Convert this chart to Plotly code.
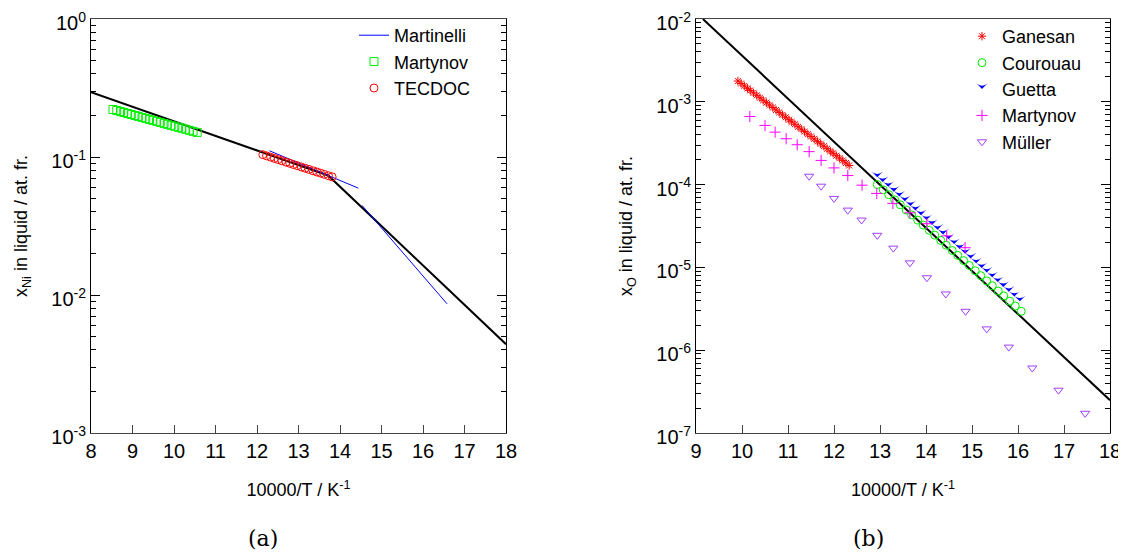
import plotly.graph_objects as go

# ---------------- data: panel (a) ----------------
calc_a_x = [8.0, 13.715, 18.0]
calc_a_y = [0.295, 0.0735, 0.0044]

martinelli_x = [12.3, 14.44, None, 14.53, 16.58]
martinelli_y = [0.111, 0.0595, None, 0.0446, 0.00863]

martynov_a_x = [8.53, 8.62, 8.71, 8.79, 8.88, 8.97, 9.06, 9.14, 9.23, 9.32, 9.41, 9.49,
                9.58, 9.67, 9.76, 9.84, 9.93, 10.02, 10.11, 10.19, 10.28, 10.37, 10.46, 10.56]
martynov_a_y = [0.2208, 0.2171, 0.2135, 0.2102, 0.2067, 0.2032, 0.1998, 0.1968, 0.1935, 0.1903,
                0.1871, 0.1843, 0.1812, 0.1781, 0.1751, 0.1725, 0.1696, 0.1668, 0.1640, 0.1615,
                0.1588, 0.1561, 0.1535, 0.1507]

tecdoc_x = [12.14, 12.23, 12.33, 12.42, 12.51, 12.60, 12.70, 12.79, 12.88, 12.97, 13.07, 13.16,
            13.25, 13.35, 13.44, 13.53, 13.62, 13.72, 13.81]
tecdoc_y = [0.1040, 0.1019, 0.0997, 0.0977, 0.0958, 0.0939, 0.0918, 0.0900, 0.0882, 0.0865,
            0.0846, 0.0829, 0.0813, 0.0795, 0.0779, 0.0764, 0.0749, 0.0732, 0.0718]

# ---------------- data: panel (b) ----------------
calc_b_x = [9.15, 18.0]
calc_b_y = [1.0e-2, 2.49e-7]

ganesan_x = [9.91, 9.98, 10.05, 10.12, 10.18, 10.25, 10.32, 10.39, 10.46, 10.53, 10.60, 10.67,
             10.74, 10.81, 10.88, 10.95, 11.02, 11.08, 11.15, 11.22, 11.29, 11.36, 11.43, 11.50,
             11.57, 11.64, 11.71, 11.78, 11.85, 11.92, 11.98, 12.05, 12.12, 12.19, 12.26, 12.33]
ganesan_y = [1.782e-3, 1.665e-3, 1.556e-3, 1.454e-3, 1.372e-3, 1.282e-3, 1.197e-3, 1.119e-3,
             1.045e-3, 9.766e-4, 9.125e-4, 8.526e-4, 7.966e-4, 7.443e-4, 6.955e-4, 6.498e-4,
             6.072e-4, 5.728e-4, 5.352e-4, 5.000e-4, 4.672e-4, 4.366e-4, 4.079e-4, 3.811e-4,
             3.561e-4, 3.327e-4, 3.109e-4, 2.905e-4, 2.714e-4, 2.536e-4, 2.392e-4, 2.235e-4,
             2.088e-4, 1.951e-4, 1.823e-4, 1.703e-4]

courouau_x = [12.94, 13.07, 13.19, 13.32, 13.44, 13.57, 13.69, 13.82, 13.94, 14.07, 14.19, 14.32,
              14.44, 14.57, 14.69, 14.82, 14.94, 15.07, 15.19, 15.32, 15.44, 15.57, 15.69, 15.82,
              15.94, 16.07]
courouau_y = [1.002e-4, 8.657e-5, 7.562e-5, 6.533e-5, 5.707e-5, 4.930e-5, 4.307e-5, 3.721e-5,
              3.250e-5, 2.808e-5, 2.452e-5, 2.118e-5, 1.851e-5, 1.599e-5, 1.396e-5, 1.206e-5,
              1.054e-5, 9.105e-6, 7.953e-6, 6.869e-6, 6.001e-6, 5.185e-6, 4.529e-6, 3.912e-6,
              3.417e-6, 2.952e-6]

guetta_x = [12.94, 13.06, 13.18, 13.30, 13.42, 13.54, 13.66, 13.77, 13.89, 14.01, 14.13, 14.25,
            14.37, 14.49, 14.61, 14.73, 14.85, 14.97, 15.09, 15.21, 15.32, 15.44, 15.56, 15.68,
            15.80, 15.92, 16.04]
guetta_y = [1.227e-4, 1.074e-4, 9.397e-5, 8.222e-5, 7.193e-5, 6.292e-5, 5.506e-5, 4.872e-5,
            4.263e-5, 3.729e-5, 3.262e-5, 2.854e-5, 2.497e-5, 2.185e-5, 1.912e-5, 1.673e-5,
            1.463e-5, 1.280e-5, 1.120e-5, 9.806e-6, 8.678e-6, 7.591e-6, 6.641e-6, 5.810e-6,
            5.084e-6, 4.447e-6, 3.891e-6]

martynov_b_x = [10.17, 10.50, 10.72, 10.96, 11.20, 11.46, 11.72, 12.00, 12.30, 12.61, 12.93,
                13.28, 13.65, 14.02, 14.45, 14.85]
martynov_b_y = [6.64e-4, 5.18e-4, 4.30e-4, 3.58e-4, 3.03e-4, 2.50e-4, 1.96e-4, 1.59e-4, 1.29e-4,
                9.84e-5, 7.82e-5, 5.93e-5, 4.57e-5, 3.37e-5, 2.40e-5, 1.73e-5]

muller_x = [11.46, 11.72, 12.00, 12.30, 12.60, 12.94, 13.29, 13.65, 14.02, 14.43, 14.86, 15.32,
            15.80, 16.31, 16.88, 17.46]
muller_y = [1.262e-4, 9.57e-5, 6.81e-5, 4.92e-5, 3.73e-5, 2.44e-5, 1.71e-5, 1.135e-5, 7.50e-6,
            4.78e-6, 2.95e-6, 1.81e-6, 1.09e-6, 6.10e-7, 3.29e-7, 1.73e-7]

xticks_a = list(range(8, 19))
xticks_b = list(range(9, 19))
yexp_a = [0, -1, -2, -3]
yexp_b = [-2, -3, -4, -5, -6, -7]

FONT = "Liberation Sans, Arial, Helvetica, sans-serif"

# the page body keeps its default 8px margin; the figure fills the rest of the window
OFF = 8
W, H = 1126 - OFF, 554 - OFF


def fx(px):
    return (px - OFF) / W


def fy(py):
    return 1 - (py - OFF) / H


fig = go.Figure()

# panel (a)
fig.add_trace(go.Scatter(x=calc_a_x, y=calc_a_y, mode="lines", line=dict(color="black", width=2),
                         showlegend=False, xaxis="x", yaxis="y"))
fig.add_trace(go.Scatter(x=martinelli_x, y=martinelli_y, mode="lines", name="Martinelli",
                         line=dict(color="#0000ff", width=1), legend="legend", xaxis="x", yaxis="y"))
fig.add_trace(go.Scatter(x=martynov_a_x, y=martynov_a_y, mode="markers", name="Martynov",
                         marker=dict(symbol="square-open", size=8, color="#00ee00", line=dict(width=1)),
                         legend="legend", xaxis="x", yaxis="y"))
fig.add_trace(go.Scatter(x=tecdoc_x, y=tecdoc_y, mode="markers", name="TECDOC",
                         marker=dict(symbol="circle-open", size=8, color="#ff0000", line=dict(width=1)),
                         legend="legend", xaxis="x", yaxis="y"))

# panel (b)
fig.add_trace(go.Scatter(x=calc_b_x, y=calc_b_y, mode="lines", line=dict(color="black", width=2),
                         showlegend=False, xaxis="x2", yaxis="y2"))
fig.add_trace(go.Scatter(x=ganesan_x, y=ganesan_y, mode="markers", name="Ganesan",
                         marker=dict(symbol="asterisk-open", size=7, color="#ff0000", line=dict(width=1, color="#ff0000")),
                         legend="legend2", xaxis="x2", yaxis="y2"))
fig.add_trace(go.Scatter(x=courouau_x, y=courouau_y, mode="markers", name="Courouau",
                         marker=dict(symbol="circle-open", size=8, color="#00ee00", line=dict(width=1)),
                         legend="legend2", xaxis="x2", yaxis="y2"))
fig.add_trace(go.Scatter(x=guetta_x, y=guetta_y, mode="markers", name="Guetta",
                         marker=dict(symbol="arrow-wide", angle=180, size=8, color="#0000ff"),
                         legend="legend2", xaxis="x2", yaxis="y2"))
fig.add_trace(go.Scatter(x=martynov_b_x, y=martynov_b_y, mode="markers", name="Martynov",
                         marker=dict(symbol="cross-thin-open", size=8, color="#ff00ff", line=dict(width=1, color="#ff00ff")),
                         legend="legend2", xaxis="x2", yaxis="y2"))
fig.add_trace(go.Scatter(x=muller_x, y=muller_y, mode="markers", name="Müller",
                         marker=dict(symbol="triangle-down-open", size=8, color="#a040ff", line=dict(width=1)),
                         legend="legend2", xaxis="x2", yaxis="y2"))


def log_minor(exps):
    lo, hi = min(exps), max(exps)
    vals = []
    for e in range(lo, hi):
        for m in range(2, 10):
            vals.append(m * 10 ** e)
    return vals


tickfont = dict(family=FONT, size=20, color="black")
titlefont = dict(family=FONT, size=18, color="black")

xcommon = dict(showline=True, linecolor="#444", linewidth=1, mirror=True, ticks="inside",
               ticklen=8, tickcolor="#444", showgrid=False, zeroline=False, tickfont=tickfont,
               automargin=False, ticklabeloverflow="allow")
ycommon = dict(type="log", showline=True, linecolor="black", linewidth=1, mirror="ticks",
               ticks="inside", ticklen=9, tickcolor="black", showgrid=False, zeroline=False,
               tickfont=tickfont, automargin=False, ticklabeloverflow="allow",
               ticklabelshift=4)

ydom = [fy(433), fy(19)]

fig.update_layout(
    width=W, height=H,
    margin=dict(l=0, r=0, t=0, b=0, pad=0, autoexpand=False),
    paper_bgcolor="white", plot_bgcolor="white",
    font=dict(family=FONT, color="black"),
    xaxis=dict(domain=[fx(91), fx(506)], range=[8, 18], tickvals=xticks_a,
               title=dict(text="10000/T / K<sup>-1</sup>", font=titlefont, standoff=22),
               anchor="y", **xcommon),
    yaxis=dict(domain=ydom, range=[-3, 0],
               tickvals=[10 ** e for e in yexp_a],
               ticktext=["10<sup>%d</sup>" % e for e in yexp_a],
               minor=dict(ticks="inside", ticklen=5, tickcolor="black", tickvals=log_minor(yexp_a)),
               title=dict(text="x<sub>Ni</sub> in liquid / at. fr.", font=titlefont, standoff=18),
               anchor="x", **ycommon),
    xaxis2=dict(domain=[fx(696), fx(1110)], range=[9, 18], tickvals=xticks_b,
                title=dict(text="10000/T / K<sup>-1</sup>", font=titlefont, standoff=22),
                anchor="y2", **xcommon),
    yaxis2=dict(domain=ydom, range=[-7, -2],
                tickvals=[10 ** e for e in yexp_b],
                ticktext=["10<sup>%d</sup>" % e for e in yexp_b],
                minor=dict(ticks="inside", ticklen=5, tickcolor="black", tickvals=log_minor(yexp_b)),
                title=dict(text="x<sub>O</sub> in liquid / at. fr.", font=titlefont, standoff=18),
                anchor="x2", **ycommon),
    legend=dict(x=fx(354), y=fy(17), xanchor="left", yanchor="top",
                bgcolor="rgba(0,0,0,0)", font=dict(family=FONT, size=18), itemwidth=30,
                tracegroupgap=0),
    legend2=dict(x=fx(962), y=fy(18), xanchor="left", yanchor="top",
                 bgcolor="rgba(0,0,0,0)", font=dict(family=FONT, size=18), itemwidth=30,
                 tracegroupgap=0),
    annotations=[
        dict(text="(a)", x=fx(263), y=fy(538), xref="paper", yref="paper",
             xanchor="center", yanchor="middle",
             showarrow=False, font=dict(family="DejaVu Serif", size=22, color="black")),
        dict(text="(b)", x=fx(868), y=fy(538), xref="paper", yref="paper",
             xanchor="center", yanchor="middle",
             showarrow=False, font=dict(family="DejaVu Serif", size=22, color="black")),
    ],
)

fig.write_html("out.html")
